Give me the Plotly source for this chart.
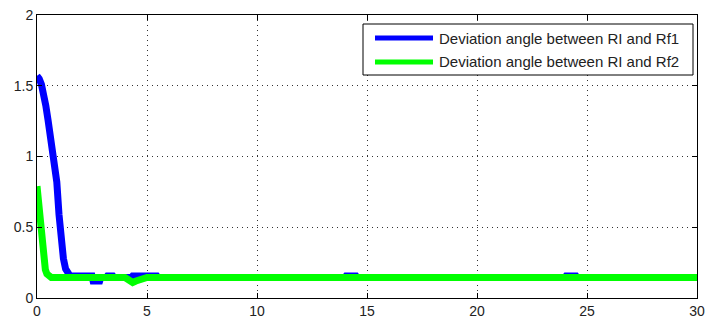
import plotly.graph_objects as go

# Blue series: Deviation angle between RI and Rf1
t_rf1 = [0, 0.1, 0.2, 0.3, 0.4, 0.5, 0.6, 0.7, 0.8, 0.9, 1.0, 1.1, 1.2, 1.3, 1.4, 1.5,
         2.5, 2.55, 2.85, 2.9, 3.15, 3.2, 3.45, 3.5, 4.3, 4.35, 5.45, 5.5,
         14.0, 14.05, 14.5, 14.55, 24.0, 24.05, 24.5, 24.55, 30.0]
v_rf1 = [1.57, 1.55, 1.51, 1.45, 1.36, 1.26, 1.16, 1.07, 0.97, 0.82, 0.59, 0.40, 0.28, 0.205, 0.17, 0.157,
         0.155, 0.12, 0.12, 0.145, 0.145, 0.155, 0.155, 0.145, 0.145, 0.155, 0.155, 0.145,
         0.145, 0.155, 0.155, 0.145, 0.145, 0.155, 0.155, 0.145, 0.145]

# Green series: Deviation angle between RI and Rf2
t_rf2 = [0, 0.05, 0.1, 0.15, 0.2, 0.25, 0.3, 0.38, 0.45, 0.55, 0.65,
         4.0, 4.2, 4.35, 4.5, 4.7, 5.0, 30.0]
v_rf2 = [0.79, 0.70, 0.58, 0.48, 0.39, 0.32, 0.265, 0.20, 0.17, 0.15, 0.145,
         0.145, 0.125, 0.11, 0.12, 0.135, 0.145, 0.145]

series_names = ["Deviation angle between RI and Rf1", "Deviation angle between RI and Rf2"]
series_colors = ["#0000ff", "#00ff00"]

x_ticks = [0, 5, 10, 15, 20, 25, 30]
y_ticks = [0, 0.5, 1, 1.5, 2]
y_tick_labels = ["0", "0.5", "1", "1.5", "2"]

W, H = 707, 325
ML, MR, MT, MB = 37, 10, 15, 27
PW, PH = W - ML - MR, H - MT - MB


def px_x(px):
    return (px - ML) / PW


def px_y(py):
    return (H - MB - py) / PH


fig = go.Figure()
for t, v, name, col in [(t_rf1, v_rf1, series_names[0], series_colors[0]),
                        (t_rf2, v_rf2, series_names[1], series_colors[1])]:
    fig.add_trace(go.Scatter(x=t, y=v, mode="lines", line=dict(color=col, width=7),
                             name=name, showlegend=False))

axis_common = dict(showline=True, linecolor="black", linewidth=1, mirror="ticks",
                   ticks="inside", ticklen=5, tickcolor="black", automargin=False,
                   showgrid=True, gridcolor="#333", griddash="1px,4px", gridwidth=1,
                   zeroline=False, tickfont=dict(family="Liberation Sans, Arial", size=14, color="#222"))

fig.update_xaxes(range=[0, 30], tickvals=x_ticks, **axis_common)
fig.update_yaxes(range=[0, 2], tickvals=y_ticks, ticktext=y_tick_labels, **axis_common)

# Manual legend (MATLAB style)
shapes = [dict(type="rect", xref="paper", yref="paper",
               x0=px_x(363), x1=px_x(693), y0=px_y(75), y1=px_y(24),
               line=dict(color="black", width=1), fillcolor="white", layer="above")]
annotations = []
for i, (name, col) in enumerate(zip(series_names, series_colors)):
    yy = 38 + 24 * i
    shapes.append(dict(type="line", xref="paper", yref="paper",
                       x0=px_x(375), x1=px_x(433), y0=px_y(yy), y1=px_y(yy),
                       line=dict(color=col, width=5), layer="above"))
    annotations.append(dict(xref="paper", yref="paper", x=px_x(437), y=px_y(yy),
                            xanchor="left", yanchor="middle", showarrow=False, text=name,
                            font=dict(family="Liberation Sans, Arial", size=15, color="#222")))

fig.update_layout(
    width=W, height=H,
    margin=dict(l=ML, r=MR, t=MT, b=MB),
    paper_bgcolor="white", plot_bgcolor="white",
    showlegend=False,
    shapes=shapes, annotations=annotations,
)

fig.write_html("out.html")
